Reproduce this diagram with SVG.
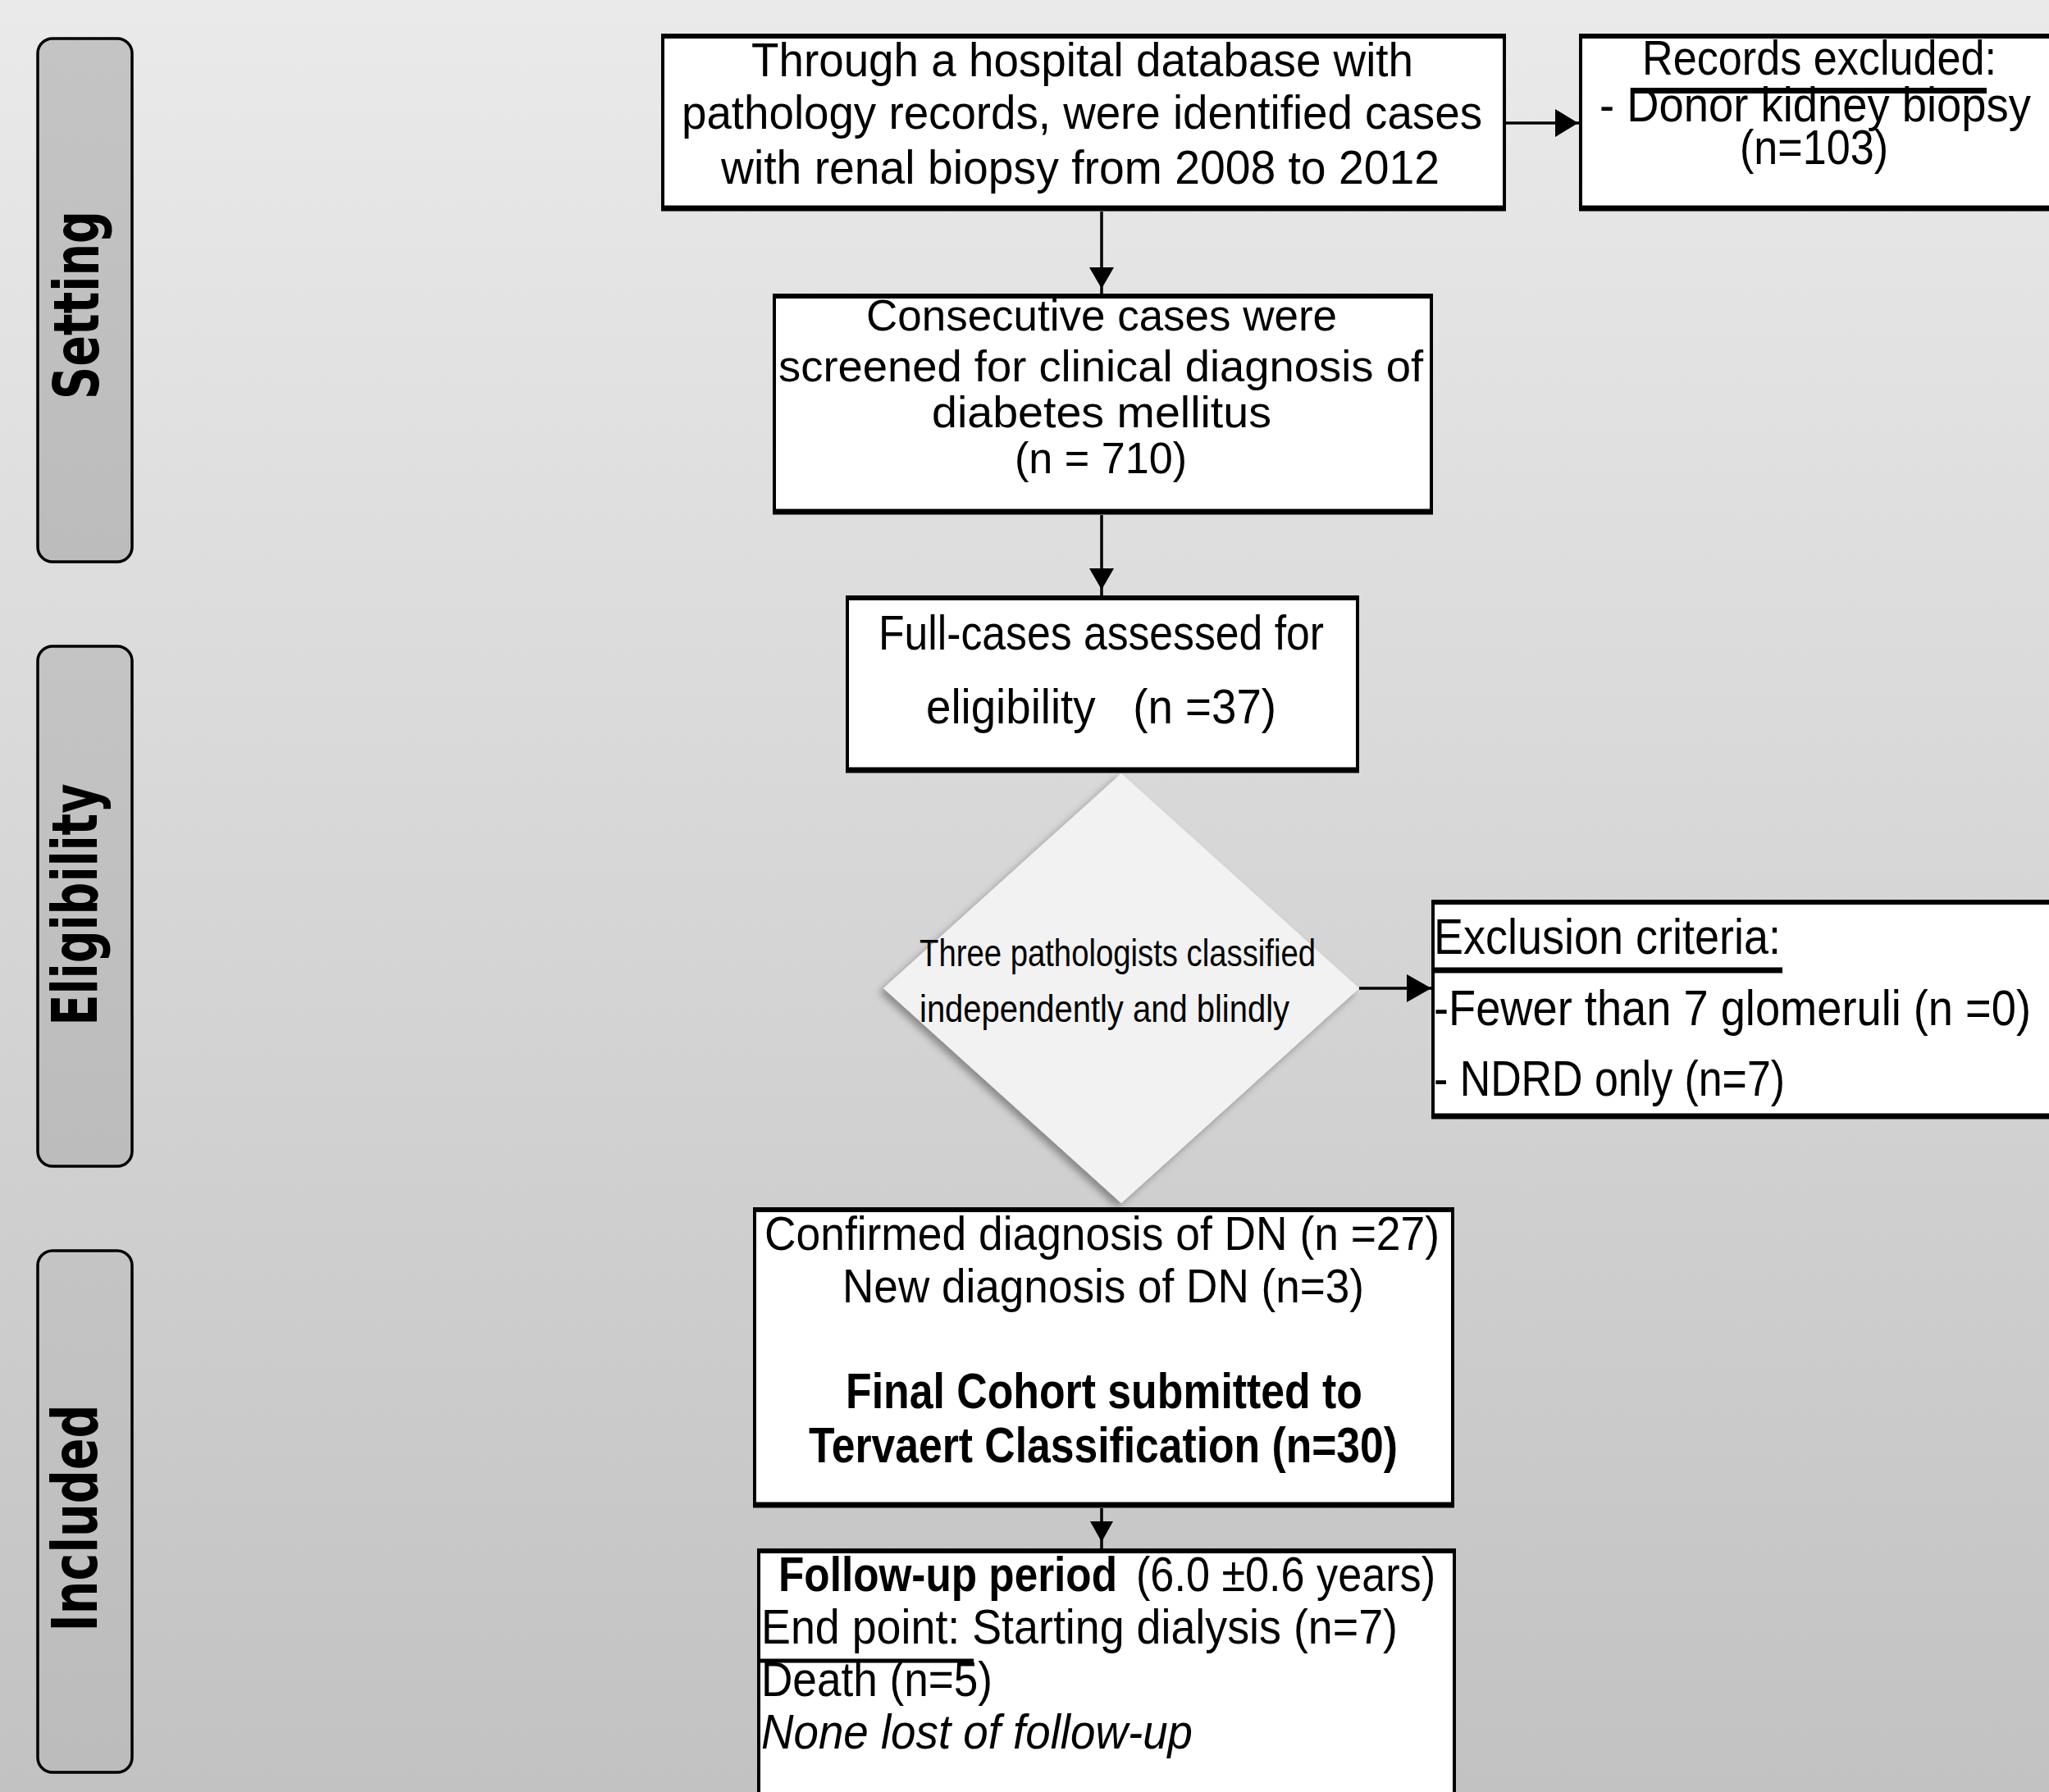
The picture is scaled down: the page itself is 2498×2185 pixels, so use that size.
<svg xmlns="http://www.w3.org/2000/svg" width="2498" height="2185" viewBox="0 0 2498 2185">
<defs>
<linearGradient id="bg" x1="0" y1="0" x2="0" y2="1">
<stop offset="0" stop-color="#eaeaea"/>
<stop offset="1" stop-color="#c2c2c2"/>
</linearGradient>
<linearGradient id="side" x1="0" y1="0" x2="0" y2="1">
<stop offset="0" stop-color="#c4c4c4"/>
<stop offset="1" stop-color="#bcbcbc"/>
</linearGradient>
<filter id="shadow" x="-20%" y="-20%" width="140%" height="140%">
<feDropShadow dx="-5" dy="5" stdDeviation="5" flood-color="#000" flood-opacity="0.35"/>
</filter>
</defs>
<style>
.box{fill:#fff;stroke:#000;stroke-width:4}
.edge{stroke:#000;fill:none}
.side{fill:url(#side);stroke:#000;stroke-width:3.5}
.t{font-family:"Liberation Sans Narrow","Liberation Sans",Arial,sans-serif;fill:#000;font-size:58px}
.b{font-weight:bold}
.i{font-style:italic}
.lab{font-family:"DejaVu Sans",Verdana,sans-serif;font-weight:bold;font-size:76px;fill:#000}
.ln{stroke:#000;stroke-width:3.5;fill:none}
.hd{fill:#000}
</style>
<rect x="0" y="0" width="2498" height="2185" fill="url(#bg)"/>

<g id="side-setting">
<rect class="side" x="46" y="47" width="115" height="638" rx="18"/>
<text class="lab" transform="translate(120,372) rotate(-90)" x="-115" y="0" textLength="230" lengthAdjust="spacingAndGlyphs">Setting</text>
</g>
<g id="side-eligibility">
<rect class="side" x="46" y="788" width="115" height="634" rx="18"/>
<text class="lab" transform="translate(118,1103) rotate(-90)" x="-147.5" y="0" textLength="295" lengthAdjust="spacingAndGlyphs">Eligibility</text>
</g>
<g id="side-included">
<rect class="side" x="46" y="1525" width="115" height="636" rx="18"/>
<text class="lab" transform="translate(118,1851) rotate(-90)" x="-138.5" y="0" textLength="277" lengthAdjust="spacingAndGlyphs">Included</text>
</g>

<g id="connectors">
<line class="ln" x1="1343" y1="258" x2="1343" y2="360"/>
<polygon class="hd" points="1328,326 1358,326 1343,352"/>
<line class="ln" x1="1343" y1="628" x2="1343" y2="728"/>
<polygon class="hd" points="1328,693 1358,693 1343,719"/>
<line class="ln" x1="1836" y1="150" x2="1926" y2="150" stroke-width="4.5"/>
<polygon class="hd" points="1896,133 1896,167 1924,150"/>
<line class="ln" x1="1657" y1="1205" x2="1746" y2="1205" stroke-width="4.5"/>
<polygon class="hd" points="1715,1188 1715,1222 1745,1205"/>
<line class="ln" x1="1343" y1="1839" x2="1343" y2="1890"/>
<polygon class="hd" points="1329,1855 1357,1855 1343,1880"/>
</g>

<g id="box-identified">
<rect class="box" x="808" y="44" width="1026" height="211"/>
<path class="edge" stroke-width="6" d="M806,44H1836"/>
<path class="edge" stroke-width="7" d="M806,254H1836"/>
<text class="t" x="916" y="93" textLength="807" lengthAdjust="spacingAndGlyphs">Through a hospital database with</text>
<text class="t" x="831" y="157" textLength="976" lengthAdjust="spacingAndGlyphs">pathology records, were identified cases</text>
<text class="t" x="879" y="224" textLength="876" lengthAdjust="spacingAndGlyphs">with renal biopsy from 2008 to 2012</text>
</g>

<g id="box-records-excluded">
<rect class="box" x="1927" y="44" width="620" height="210"/>
<path class="edge" stroke-width="6" d="M1925,44H2498"/>
<path class="edge" stroke-width="7" d="M1925,254H2498"/>
<text class="t" style="font-size:60px" x="2002" y="91" textLength="432" lengthAdjust="spacingAndGlyphs">Records excluded:</text>
<path class="edge" stroke-width="7" d="M1988,110.5H2422"/>
<text class="t" style="font-size:60px" x="1950" y="148" textLength="526" lengthAdjust="spacingAndGlyphs">- Donor kidney biopsy</text>
<text class="t" style="font-size:60px" x="2121" y="200" textLength="181" lengthAdjust="spacingAndGlyphs">(n=103)</text>
</g>

<g id="box-screened">
<rect class="box" x="944" y="361" width="801" height="264"/>
<path class="edge" stroke-width="6" d="M942,361H1747"/>
<path class="edge" stroke-width="7" d="M942,624H1747"/>
<text class="t" style="font-size:53px" x="1056" y="403" textLength="574" lengthAdjust="spacingAndGlyphs">Consecutive cases were</text>
<text class="t" style="font-size:53px" x="949" y="465" textLength="786" lengthAdjust="spacingAndGlyphs">screened for clinical diagnosis of</text>
<text class="t" style="font-size:53px" x="1136" y="521" textLength="414" lengthAdjust="spacingAndGlyphs">diabetes mellitus</text>
<text class="t" style="font-size:53px" x="1237" y="577" textLength="210" lengthAdjust="spacingAndGlyphs">(n = 710)</text>
</g>

<g id="box-assessed">
<rect class="box" x="1033" y="729" width="622" height="211"/>
<path class="edge" stroke-width="6" d="M1031,729H1657"/>
<path class="edge" stroke-width="7" d="M1031,939H1657"/>
<text class="t" style="font-size:60px" x="1071" y="792" textLength="543" lengthAdjust="spacingAndGlyphs">Full-cases assessed for</text>
<text class="t" style="font-size:60px" xml:space="preserve" x="1129" y="882" textLength="427" lengthAdjust="spacingAndGlyphs">eligibility   (n =37)</text>
</g>

<g id="decision-pathologists">
<polygon points="1367,943 1657,1205 1367,1467 1077,1205" fill="#f2f2f2" filter="url(#shadow)"/>
<text class="t" style="font-size:46px" x="1121" y="1178" textLength="483" lengthAdjust="spacingAndGlyphs">Three pathologists classified</text>
<text class="t" style="font-size:46px" x="1121" y="1246" textLength="451" lengthAdjust="spacingAndGlyphs">independently and blindly</text>
</g>

<g id="box-exclusion-criteria">
<rect class="box" x="1747" y="1100" width="800" height="262"/>
<path class="edge" stroke-width="6" d="M1745,1100H2498"/>
<path class="edge" stroke-width="7" d="M1745,1361H2498"/>
<text class="t" style="font-size:61px" x="1748" y="1163" textLength="423" lengthAdjust="spacingAndGlyphs">Exclusion criteria:</text>
<path class="edge" stroke-width="7" d="M1748,1183H2173"/>
<text class="t" style="font-size:61px" x="1748" y="1250" textLength="728" lengthAdjust="spacingAndGlyphs">-Fewer than 7 glomeruli (n =0)</text>
<text class="t" style="font-size:61px" x="1748" y="1336" textLength="428" lengthAdjust="spacingAndGlyphs">- NDRD only (n=7)</text>
</g>

<g id="box-final-cohort">
<rect class="box" x="920" y="1475" width="851" height="361"/>
<path class="edge" stroke-width="6" d="M918,1475H1773"/>
<path class="edge" stroke-width="7" d="M918,1835H1773"/>
<text class="t" x="932" y="1524" textLength="823" lengthAdjust="spacingAndGlyphs">Confirmed diagnosis of DN (n =27)</text>
<text class="t" x="1027" y="1588" textLength="636" lengthAdjust="spacingAndGlyphs">New diagnosis of DN (n=3)</text>
<text class="t b" style="font-size:62px" x="1031" y="1717" textLength="630" lengthAdjust="spacingAndGlyphs">Final Cohort submitted to</text>
<text class="t b" style="font-size:62px" x="986" y="1783" textLength="718" lengthAdjust="spacingAndGlyphs">Tervaert Classification (n=30)</text>
</g>

<g id="box-follow-up">
<rect class="box" x="925" y="1891" width="848" height="400"/>
<path class="edge" stroke-width="6" d="M923,1891H1775"/>
<text class="t b" style="font-size:60px" x="949" y="1940" textLength="413" lengthAdjust="spacingAndGlyphs">Follow-up period</text>
<text class="t" style="font-size:60px" x="1385" y="1940" textLength="365" lengthAdjust="spacingAndGlyphs">(6.0 ±0.6 years)</text>
<text class="t" style="font-size:60px" x="928" y="2004" textLength="776" lengthAdjust="spacingAndGlyphs">End point: Starting dialysis (n=7)</text>
<path class="edge" stroke-width="5" d="M923,2025H1187"/>
<text class="t" style="font-size:60px" x="928" y="2068" textLength="282" lengthAdjust="spacingAndGlyphs">Death (n=5)</text>
<text class="t i" style="font-size:60px" x="928" y="2132" textLength="526" lengthAdjust="spacingAndGlyphs">None lost of follow-up</text>
</g>
</svg>
